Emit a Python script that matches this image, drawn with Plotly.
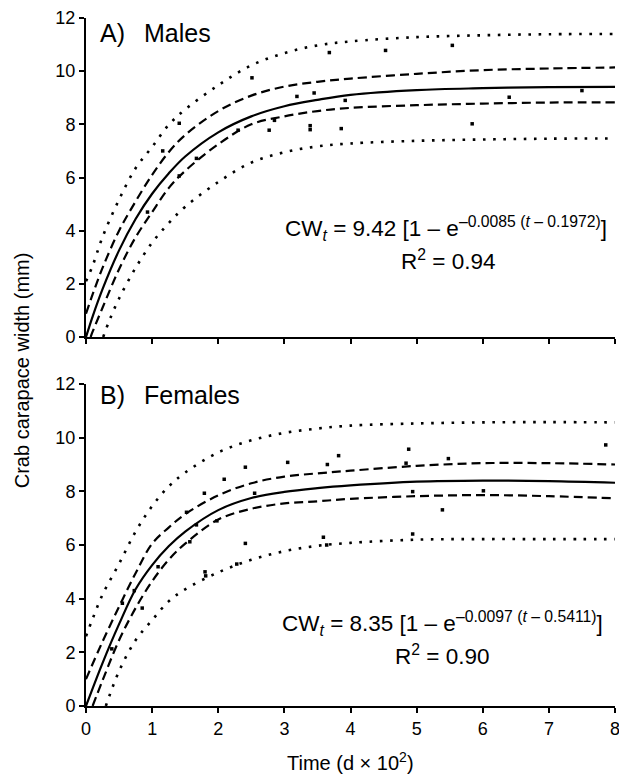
import plotly.graph_objects as go
from plotly.subplots import make_subplots

# ---------------- Males (panel A) ----------------
m_pts_x = [0.93, 1.16, 1.41, 1.41, 1.67, 2.30, 2.51, 2.77, 2.85, 3.19, 3.39, 3.39,
           3.45, 3.68, 3.86, 3.92, 4.53, 5.54, 5.84, 6.40, 7.50]
m_pts_y = [4.70, 7.00, 8.04, 6.06, 6.72, 7.78, 9.75, 7.78, 8.15, 9.05, 7.95, 7.80,
           9.18, 10.70, 7.84, 8.90, 10.78, 10.97, 8.02, 9.02, 9.27]

m_fit_x = [0, 0.1, 0.25, 0.5, 0.75, 1, 1.25, 1.5, 2, 2.5, 3, 3.5, 4, 5, 6, 7, 8]
m_fit_y = [0, 0.77, 1.80, 3.26, 4.44, 5.39, 6.15, 6.79, 7.70, 8.30, 8.68, 8.92, 9.11, 9.29, 9.36, 9.40, 9.41]

m_ciu_x = [0, 0.1, 0.25, 0.5, 0.75, 1, 1.25, 1.5, 2, 2.5, 3, 3.5, 4, 5, 6, 7, 8]
m_ciu_y = [0.88, 1.60, 2.60, 4.00, 5.10, 6.10, 6.95, 7.60, 8.50, 9.08, 9.42, 9.60, 9.72, 9.90, 10.04, 10.10, 10.14]

m_cil_x = [0.07, 0.1, 0.25, 0.5, 0.75, 1, 1.25, 1.5, 2, 2.5, 3, 3.5, 4, 5, 6, 7, 8]
m_cil_y = [0, 0.20, 1.10, 2.55, 3.75, 4.70, 5.60, 6.25, 7.25, 8.00, 8.30, 8.50, 8.62, 8.72, 8.78, 8.82, 8.83]

m_piu_x = [0, 0.1, 0.25, 0.5, 0.75, 1, 1.25, 1.5, 2, 2.5, 3, 3.5, 4, 5, 6, 7, 8]
m_piu_y = [2.10, 2.68, 3.76, 5.17, 6.35, 7.15, 7.98, 8.56, 9.47, 10.22, 10.68, 10.97, 11.12, 11.28, 11.35, 11.39, 11.40]

m_pil_x = [0.26, 0.35, 0.5, 0.75, 1, 1.25, 1.5, 2, 2.5, 3, 3.5, 4, 5, 6, 7, 8]
m_pil_y = [0, 0.60, 1.45, 2.60, 3.55, 4.28, 4.90, 5.83, 6.56, 6.95, 7.17, 7.28, 7.38, 7.43, 7.46, 7.47]

# ---------------- Females (panel B) ----------------
f_pts_x = [0.39, 0.55, 0.73, 0.85, 1.09, 1.52, 1.57, 1.67, 1.79, 1.80, 1.81, 1.98, 2.09,
           2.28, 2.41, 2.41, 2.55, 3.05, 3.59, 3.64, 3.65, 3.82, 4.84, 4.88, 4.94, 4.94,
           5.39, 5.48, 6.01, 7.86]
f_pts_y = [2.13, 3.83, 4.30, 3.65, 5.19, 7.22, 6.12, 6.75, 7.93, 5.00, 4.85, 6.90, 8.45,
           5.29, 8.90, 6.06, 7.93, 9.08, 6.29, 6.00, 9.00, 9.33, 9.05, 9.57, 7.99, 6.41,
           7.31, 9.22, 8.02, 9.73]

f_fit_x = [0, 0.25, 0.5, 0.75, 1, 1.25, 1.5, 2, 2.5, 3, 3.5, 4, 5, 6, 7, 8]
f_fit_y = [0, 1.60, 3.05, 4.35, 5.25, 5.95, 6.50, 7.30, 7.75, 7.98, 8.12, 8.22, 8.36, 8.40, 8.38, 8.32]

f_ciu_x = [0, 0.25, 0.5, 0.75, 1, 1.25, 1.5, 2, 2.5, 3, 3.5, 4, 5, 6, 7, 8]
f_ciu_y = [1.00, 2.40, 3.70, 4.95, 6.05, 6.65, 7.15, 7.85, 8.30, 8.55, 8.67, 8.77, 8.95, 9.05, 9.05, 9.00]

f_cil_x = [0.1, 0.25, 0.5, 0.75, 1, 1.25, 1.5, 2, 2.5, 3, 3.5, 4, 5, 6, 7, 8]
f_cil_y = [0, 0.95, 2.45, 3.65, 4.65, 5.45, 6.05, 6.95, 7.35, 7.55, 7.63, 7.72, 7.82, 7.86, 7.82, 7.74]

f_piu_x = [0, 0.1, 0.25, 0.5, 0.75, 1, 1.25, 1.5, 2, 2.5, 3, 3.5, 4, 5, 6, 7, 8]
f_piu_y = [2.60, 3.25, 4.15, 5.30, 6.50, 7.45, 8.18, 8.70, 9.45, 9.90, 10.18, 10.34, 10.45, 10.53, 10.57, 10.58, 10.57]

f_pil_x = [0.3, 0.5, 0.75, 1, 1.25, 1.5, 2, 2.5, 3, 3.5, 4, 5, 6, 7, 8]
f_pil_y = [0, 1.30, 2.45, 3.20, 3.90, 4.35, 4.98, 5.45, 5.77, 5.97, 6.08, 6.20, 6.22, 6.22, 6.22]

y_ticks = [0, 2, 4, 6, 8, 10, 12]
x_ticks = [0, 1, 2, 3, 4, 5, 6, 7, 8]

FONT = "Liberation Sans, Arial, Helvetica, sans-serif"
BLACK = "#000000"

fig = make_subplots(rows=2, cols=1, shared_xaxes=False, vertical_spacing=0.0)


def add_panel(row, px, py, fx, fy, ux, uy, lx, ly, pux, puy, plx, ply):
    dot = dict(color=BLACK, width=2.6, dash="2.6px,7.6px")
    dsh = dict(color=BLACK, width=2.2, dash="9px,5px")
    fig.add_trace(go.Scatter(x=pux, y=puy, mode="lines", line=dot, line_shape="spline",
                             showlegend=False, hoverinfo="skip"), row=row, col=1)
    fig.add_trace(go.Scatter(x=plx, y=ply, mode="lines", line=dot, line_shape="spline",
                             showlegend=False, hoverinfo="skip"), row=row, col=1)
    fig.add_trace(go.Scatter(x=ux, y=uy, mode="lines", line=dsh, line_shape="spline",
                             showlegend=False, hoverinfo="skip"), row=row, col=1)
    fig.add_trace(go.Scatter(x=lx, y=ly, mode="lines", line=dsh, line_shape="spline",
                             showlegend=False, hoverinfo="skip"), row=row, col=1)
    fig.add_trace(go.Scatter(x=fx, y=fy, mode="lines", line=dict(color=BLACK, width=2.2),
                             line_shape="spline", showlegend=False, hoverinfo="skip"),
                  row=row, col=1)
    fig.add_trace(go.Scatter(x=px, y=py, mode="markers",
                             marker=dict(symbol="square", size=3.5, color=BLACK,
                                         line=dict(width=0)),
                             showlegend=False), row=row, col=1)


add_panel(1, m_pts_x, m_pts_y, m_fit_x, m_fit_y, m_ciu_x, m_ciu_y, m_cil_x, m_cil_y,
          m_piu_x, m_piu_y, m_pil_x, m_pil_y)
add_panel(2, f_pts_x, f_pts_y, f_fit_x, f_fit_y, f_ciu_x, f_ciu_y, f_cil_x, f_cil_y,
          f_piu_x, f_piu_y, f_pil_x, f_pil_y)

axis_common = dict(showline=True, linecolor=BLACK, linewidth=2, showgrid=False,
                   zeroline=False, ticks="outside", ticklen=5, tickwidth=1.5,
                   tickcolor=BLACK, automargin=False, ticklabeloverflow="allow",
                   tickfont=dict(family=FONT, size=18, color=BLACK))

fig.update_xaxes(**axis_common, range=[0, 8], tickvals=x_ticks)
fig.update_yaxes(**axis_common, range=[0, 12], tickvals=y_ticks)
fig.update_xaxes(showticklabels=False, row=1, col=1)

# the page adds an 8px body margin, so the figure is sized/placed to compensate
fig.update_layout(
    width=619, height=766,
    margin=dict(l=78, r=12, t=10, b=68, autoexpand=False),
    paper_bgcolor="white", plot_bgcolor="white",
    font=dict(family=FONT, color=BLACK),
    yaxis=dict(domain=[0.5363, 1.0]),
    yaxis2=dict(domain=[0.0, 0.468]),
    xaxis=dict(anchor="y"),
    xaxis2=dict(anchor="y2"),
)

ann = []
# panel labels
ann.append(dict(x=0.18, y=11.45, xref="x", yref="y", text="A)", showarrow=False,
                xanchor="left", yanchor="middle", font=dict(size=25, family=FONT)))
ann.append(dict(x=0.85, y=11.45, xref="x", yref="y", text="Males", showarrow=False,
                xanchor="left", yanchor="middle", font=dict(size=25, family=FONT)))
ann.append(dict(x=0.18, y=11.6, xref="x2", yref="y2", text="B)", showarrow=False,
                xanchor="left", yanchor="middle", font=dict(size=25, family=FONT)))
ann.append(dict(x=0.85, y=11.6, xref="x2", yref="y2", text="Females", showarrow=False,
                xanchor="left", yanchor="middle", font=dict(size=25, family=FONT)))
# equations
ann.append(dict(x=5.44, y=4.1, xref="x", yref="y",
                text="CW<sub><i>t</i></sub> = 9.42 [1 – e<sup>–0.0085 (<i>t</i> – 0.1972)</sup>]",
                showarrow=False, xanchor="center", yanchor="middle",
                font=dict(size=22.5, family=FONT)))
ann.append(dict(x=5.48, y=2.9, xref="x", yref="y", text="R<sup>2</sup> = 0.94",
                showarrow=False, xanchor="center", yanchor="middle",
                font=dict(size=22.5, family=FONT)))
ann.append(dict(x=5.39, y=3.09, xref="x2", yref="y2",
                text="CW<sub><i>t</i></sub> = 8.35 [1 – e<sup>–0.0097 (<i>t</i> – 0.5411)</sup>]",
                showarrow=False, xanchor="center", yanchor="middle",
                font=dict(size=22.5, family=FONT)))
ann.append(dict(x=5.39, y=1.9, xref="x2", yref="y2", text="R<sup>2</sup> = 0.90",
                showarrow=False, xanchor="center", yanchor="middle",
                font=dict(size=22.5, family=FONT)))
# axis titles
ann.append(dict(x=0.5, y=-0.081, xref="paper", yref="paper",
                text="Time (d × 10<sup>2</sup>)", showarrow=False,
                xanchor="center", yanchor="middle", font=dict(size=20, family=FONT)))
ann.append(dict(x=-0.121, y=0.488, xref="paper", yref="paper",
                text="Crab carapace width (mm)", showarrow=False, textangle=-90,
                xanchor="center", yanchor="middle", font=dict(size=20, family=FONT)))

fig.update_layout(annotations=ann)

fig.write_html("out.html")
